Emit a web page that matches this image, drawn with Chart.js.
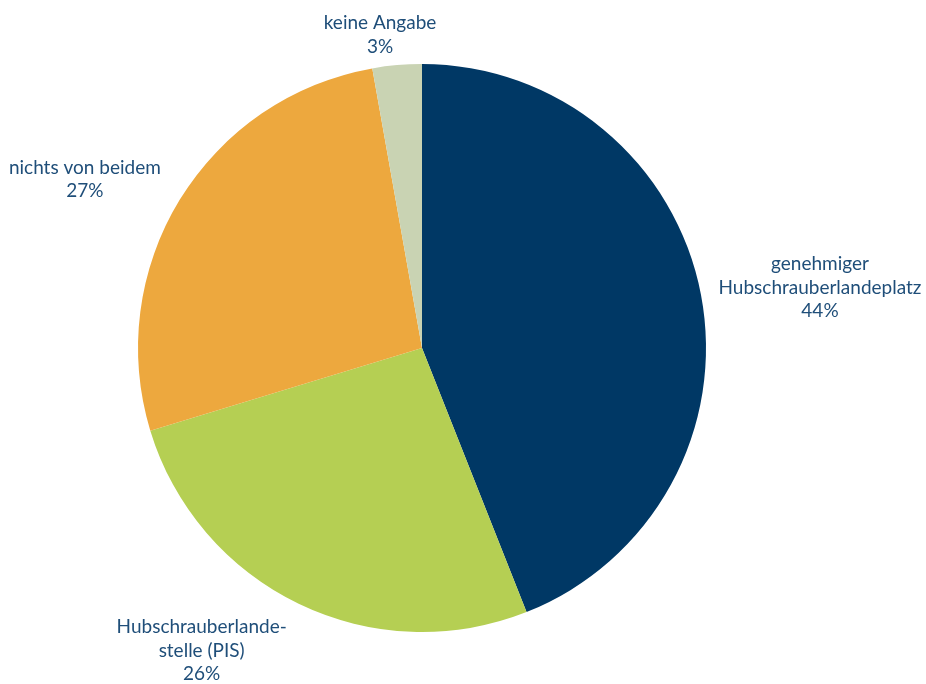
<!DOCTYPE html>
<html>
<head>
<meta charset="utf-8">
<script src="https://cdn.jsdelivr.net/npm/chart.js@4.4.1/dist/chart.umd.min.js"></script>
<style>
  html, body { margin: 0; padding: 0; background: #fff; }
  #wrap { width: 926px; height: 684px; position: relative; }
</style>
</head>
<body>
<div id="wrap"><canvas id="pieChart"></canvas></div>
<script>
// DATA
const categories = [
  ['genehmiger', 'Hubschrauberlandeplatz'],
  ['Hubschrauberlande-', 'stelle (PIS)'],
  ['nichts von beidem'],
  ['keine Angabe']
];
const shares = [44.0, 26.3, 26.9, 2.8];
const percentLabels = ['44%', '26%', '27%', '3%'];
const sliceColors = ['#003865', '#b5cf53', '#eda83e', '#c9d3b3'];

// label offsets from the arc edge at each slice's mid angle (layout only)
const labelNudge = [[119, -7], [-97, 47], [-95, -20], [-17, -30]];
const LABEL_FONT = '19px Lato';
const LINE_H = 23.5;

const pieLabels = {
  id: 'pieLabels',
  afterDatasetsDraw: (chart) => {
    const { ctx } = chart;
    const meta = chart.getDatasetMeta(0);
    ctx.save();
    ctx.font = LABEL_FONT;
    ctx.fillStyle = '#1f4e79';
    ctx.textAlign = 'center';
    ctx.textBaseline = 'middle';
    meta.data.forEach((arc, i) => {
      const { x, y, startAngle, endAngle, outerRadius } = arc.getProps(['x', 'y', 'startAngle', 'endAngle', 'outerRadius'], true);
      const mid = (startAngle + endAngle) / 2;
      const ax = x + Math.cos(mid) * outerRadius + labelNudge[i][0];
      const ay = y + Math.sin(mid) * outerRadius + labelNudge[i][1];
      const lines = [...categories[i], percentLabels[i]];
      lines.forEach((line, k) => {
        ctx.fillText(line, ax, ay + (k - (lines.length - 1) / 2) * LINE_H);
      });
    });
    ctx.restore();
  }
};

const ctx = document.getElementById('pieChart').getContext('2d');
const chart = new Chart(ctx, {
  type: 'pie',
  data: {
    labels: categories.map(c => c.join(' ')),
    datasets: [{
      data: shares,
      backgroundColor: sliceColors,
      borderWidth: 0
    }]
  },
  plugins: [pieLabels],
  options: {
    responsive: true,
    maintainAspectRatio: false,
    animation: false,
    layout: { padding: { top: 64, bottom: 52, left: 138, right: 220 } },
    plugins: {
      legend: { display: false },
      tooltip: { enabled: false }
    }
  }
});
</script>
</body>
</html>
